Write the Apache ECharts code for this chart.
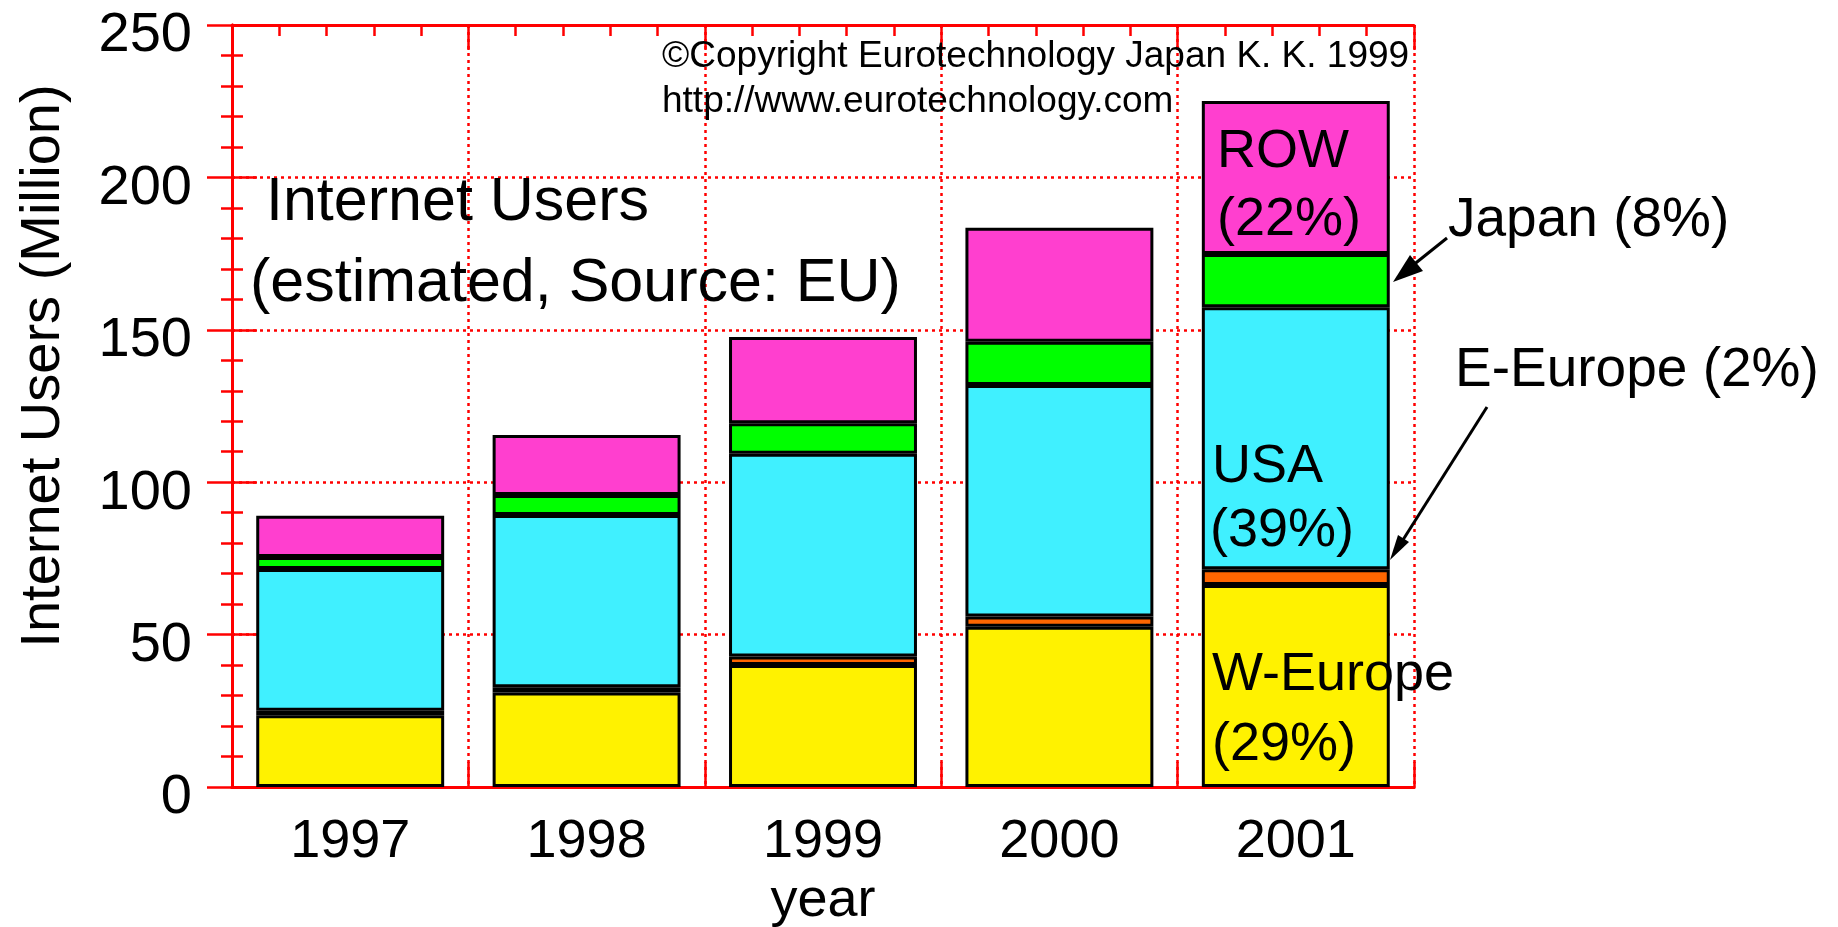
<!DOCTYPE html>
<html>
<head>
<meta charset="utf-8">
<script src="https://cdn.jsdelivr.net/npm/echarts@6/dist/echarts.min.js"></script>
<style>
  body { margin: 0; background: #fff; }
  #chart { width: 1838px; height: 927px; }
</style>
</head>
<body>
<div id="chart"></div>
<script>
// values (million users)
var years = ['1997', '1998', '1999', '2000', '2001'];
var wEurope = [23.5, 31, 40, 52.6, 66.3];
var eEurope = [1.5, 1.7, 2.8, 3.3, 5.1];
var usa = [46.5, 56.5, 66.5, 76, 86];
var japan = [4, 6.6, 10, 14.2, 17.5];
var rowWorld = [13.5, 19.7, 28.3, 37.4, 50.2];
var yTicks = [0, 50, 100, 150, 200, 250];

var FONT = "'Liberation Sans', Arial, Helvetica, sans-serif";
var RED = '#ff0000';

var myChart = echarts.init(document.getElementById('chart'));

function barSeries(name, data, color) {
  return {
    name: name,
    type: 'bar',
    stack: 'total',
    barWidth: '79.5%',
    data: data,
    itemStyle: { color: color, borderColor: '#000', borderWidth: 3 },
    emphasis: { disabled: true }
  };
}

// ticks pointing in from the red frame
function frameTicks() {
  return {
    axisLine: { show: true, lineStyle: { color: RED, width: 3 } },
    axisTick: { show: true, inside: true, length: 25, lineStyle: { color: RED, width: 2.5 } },
    minorTick: { show: true, splitNumber: 5, length: 11, lineStyle: { color: RED, width: 2.5 } },
    axisLabel: { show: false }
  };
}

function txt(x, y, text, size, align, extra) {
  var el = {
    type: 'text', x: x, y: y, z: 100,
    style: {
      text: text, font: size + 'px ' + FONT, fill: '#000',
      textAlign: align || 'left', textVerticalAlign: 'middle'
    }
  };
  if (extra) { for (var k in extra) el[k] = extra[k]; }
  return el;
}

var option = {
  animation: false,
  backgroundColor: '#fff',
  grid: { left: 232, right: 424, top: 25, bottom: 140, outerBoundsMode: 'none' },
  xAxis: [
    {
      type: 'category',
      data: years,
      position: 'bottom',
      axisLine: { show: true, lineStyle: { color: RED, width: 3 } },
      axisTick: { show: false },
      splitLine: { show: false },
      axisLabel: { fontSize: 54, fontFamily: FONT, color: '#000', margin: 28 },
      name: 'year',
      nameLocation: 'middle',
      nameGap: 77,
      nameTextStyle: { fontSize: 54, fontFamily: FONT, color: '#000' }
    },
    Object.assign({
      type: 'value', min: 0, max: 5, interval: 1, position: 'bottom',
      splitLine: { show: true, lineStyle: { color: RED, width: 2.5, type: [3, 4] } }
    }, frameTicks()),
    Object.assign({
      type: 'value', min: 0, max: 5, interval: 1, position: 'top',
      splitLine: { show: false }
    }, frameTicks())
  ],
  yAxis: [
    Object.assign({}, frameTicks(), {
      type: 'value', min: yTicks[0], max: yTicks[yTicks.length - 1], interval: 50,
      position: 'left',
      splitLine: { show: true, lineStyle: { color: RED, width: 2.5, type: [3, 4] } },
      axisLabel: {
        show: true, fontSize: 56, fontFamily: FONT, color: '#000', margin: 40,
        verticalAlign: 'top', lineHeight: 22
      }
    }),
    Object.assign({
      type: 'value', min: 0, max: 250, interval: 50, position: 'right',
      splitLine: { show: false }
    }, frameTicks())
  ],
  series: [
    barSeries('W-Europe', wEurope, '#fff200'),
    barSeries('E-Europe', eEurope, '#ff6600'),
    barSeries('USA', usa, '#40f0ff'),
    barSeries('Japan', japan, '#00ff00'),
    barSeries('ROW', rowWorld, '#ff3fcf')
  ],
  graphic: [
    txt(44, 366, 'Internet Users (Million)', 56, 'center', { rotation: Math.PI / 2 }),
    txt(662, 57, '\u00a9Copyright Eurotechnology Japan K. K. 1999', 37),
    txt(662, 102, 'http://www.eurotechnology.com', 37),
    txt(266, 203, 'Internet Users', 61),
    txt(250, 284, '(estimated, Source: EU)', 61),
    txt(1217, 152, 'ROW', 54),
    txt(1217, 220, '(22%)', 54),
    txt(1212, 467, 'USA', 54),
    txt(1210, 531, '(39%)', 54),
    txt(1212, 675, 'W-Europe', 54),
    txt(1212, 745, '(29%)', 54),
    txt(1448, 221, 'Japan (8%)', 55),
    txt(1455, 371, 'E-Europe (2%)', 55),
    // arrow to Japan
    { type: 'line', z: 100, shape: { x1: 1447, y1: 238, x2: 1412, y2: 266 }, style: { stroke: '#000', lineWidth: 3 } },
    { type: 'polygon', z: 100, shape: { points: [[1393, 282], [1423, 271], [1410, 255]] }, style: { fill: '#000' } },
    // arrow to E-Europe
    { type: 'line', z: 100, shape: { x1: 1487, y1: 407, x2: 1401, y2: 543 }, style: { stroke: '#000', lineWidth: 3 } },
    { type: 'polygon', z: 100, shape: { points: [[1390, 560], [1409, 542], [1398, 535]] }, style: { fill: '#000' } }
  ]
};

myChart.setOption(option);
</script>
</body>
</html>
